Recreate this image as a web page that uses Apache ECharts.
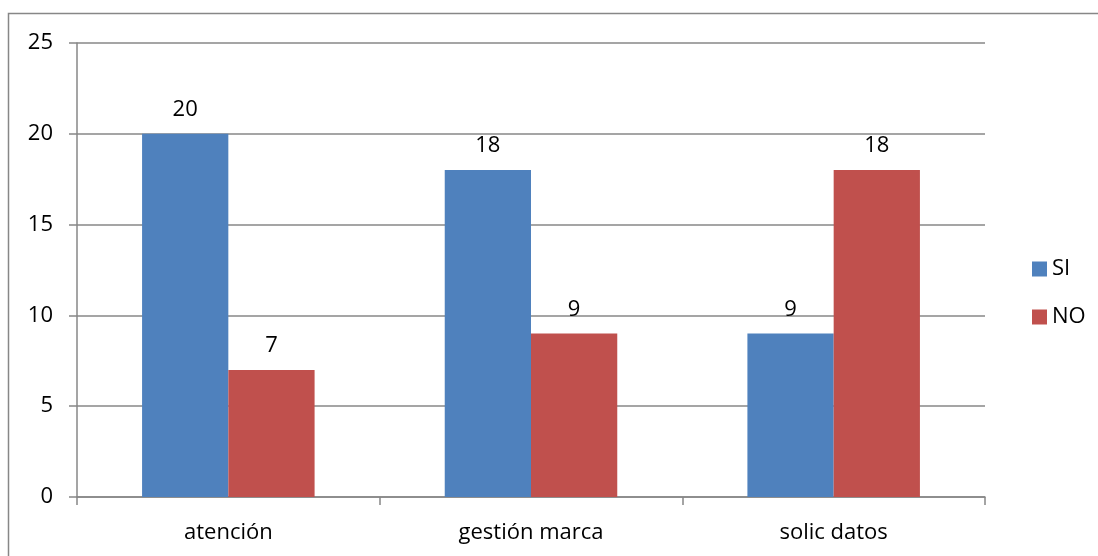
<!DOCTYPE html>
<html>
<head>
    <meta charset="utf-8">
    <title>SI / NO</title>
    <style>
        html, body { margin: 0; padding: 0; background: #fff; }
        #chart { width: 1098px; height: 556px; }
    </style>
</head>
<body>
<div id="chart"></div>
<script src="https://cdn.jsdelivr.net/npm/echarts@6/dist/echarts.min.js"></script>
<script>
    var categories = ['atención', 'gestión marca', 'solic datos'];
    var siData = [20, 18, 9];   // SI
    var noData = [7, 9, 18];    // NO
    var yTicks = [0, 5, 10, 15, 20, 25];

    var font = '"Open Sans", sans-serif';
    var grey = '#878787';
    var myChart = echarts.init(document.getElementById('chart'));

    var labelStyle = {
        show: true,
        position: 'top',
        distance: 13,
        color: '#000',
        fontFamily: font,
        fontSize: 22
    };

    var option = {
        animation: false,
        backgroundColor: '#fff',
        graphic: [
            {
                type: 'rect',
                shape: { x: 8.5, y: 13.5, width: 1100, height: 560 },
                style: { fill: 'none', stroke: grey, lineWidth: 1.5 },
                silent: true
            }
        ],
        grid: { left: 77, right: 113, top: 43, bottom: 59 },
        legend: {
            orient: 'vertical',
            left: 1027,
            top: 253,
            itemWidth: 15,
            itemHeight: 15,
            itemGap: 26,
            icon: 'rect',
            textStyle: { fontFamily: font, fontSize: 22, lineHeight: 22, color: '#000' },
            data: ['SI', 'NO']
        },
        xAxis: {
            type: 'category',
            data: categories,
            axisLine: { lineStyle: { color: grey, width: 1.5 } },
            axisTick: { show: true, length: 8, lineStyle: { color: grey, width: 1.5 } },
            axisLabel: { margin: 25, color: '#000', fontFamily: font, fontSize: 22 }
        },
        yAxis: {
            type: 'value',
            min: yTicks[0],
            max: yTicks[yTicks.length - 1],
            interval: 5,
            axisLine: { show: true, lineStyle: { color: grey, width: 1.5 } },
            axisTick: { show: true, length: 8, lineStyle: { color: grey, width: 1.5 } },
            splitLine: { lineStyle: { color: grey, width: 1.5 } },
            axisLabel: { margin: 24, color: '#000', fontFamily: font, fontSize: 22 }
        },
        series: [
            {
                name: 'SI',
                type: 'bar',
                data: siData,
                barGap: '0%',
                barCategoryGap: '43%',
                itemStyle: { color: '#4F81BD' },
                label: labelStyle
            },
            {
                name: 'NO',
                type: 'bar',
                data: noData,
                itemStyle: { color: '#C0504D' },
                label: labelStyle
            }
        ]
    };
    myChart.setOption(option, true);
</script>
</body>
</html>
